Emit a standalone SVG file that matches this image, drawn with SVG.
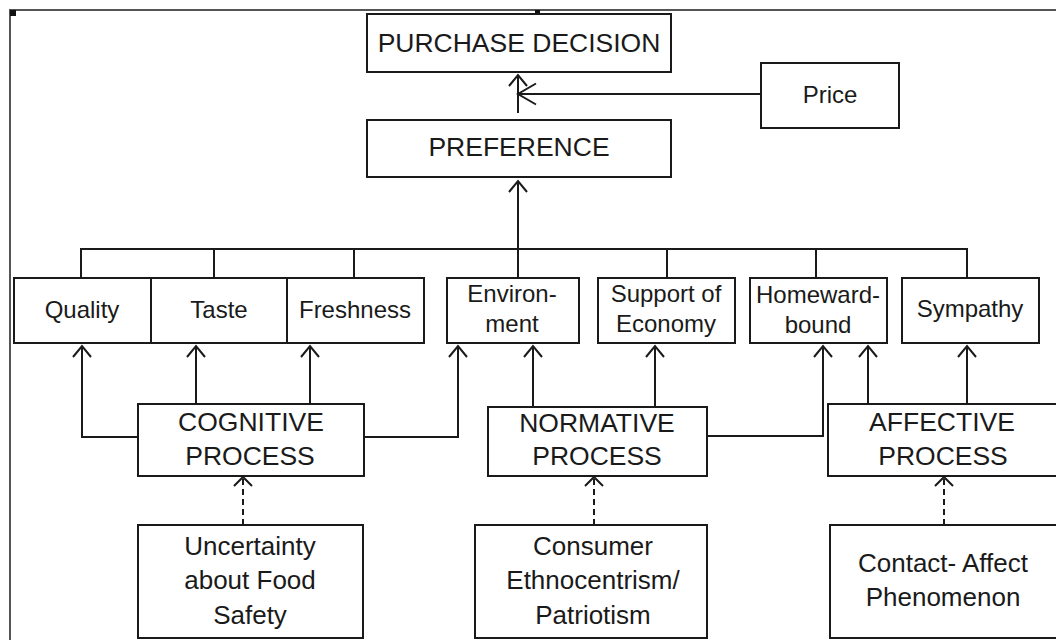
<svg xmlns="http://www.w3.org/2000/svg" width="1056" height="640" viewBox="0 0 1056 640">
<style>
.box{fill:#fff;stroke:#1a1a1a;stroke-width:2}
.t{font-family:"Liberation Sans",Arial,sans-serif;fill:#1a1a1a;text-anchor:middle}
.big{font-size:26.5px}
.mid{font-size:24px}
.low{font-size:26px}
.c{fill:none;stroke:#1a1a1a;stroke-width:2}
.d{stroke-dasharray:6 4}
.frame{fill:none;stroke:#555;stroke-width:2}
</style>
<defs>
<marker id="ah" markerUnits="userSpaceOnUse" markerWidth="30" markerHeight="30" viewBox="-15 -15 30 30" refX="0" refY="0" orient="auto" overflow="visible">
<path d="M-11,-9 L0,0 L-11,9" fill="none" stroke="#1a1a1a" stroke-width="2"/>
</marker>
<marker id="ahb" markerUnits="userSpaceOnUse" markerWidth="40" markerHeight="40" viewBox="-20 -20 40 40" refX="0" refY="0" orient="auto" overflow="visible">
<path d="M-18,-10.5 L0,0 L-18,10.5" fill="none" stroke="#1a1a1a" stroke-width="2"/>
</marker>
<marker id="ahs" markerUnits="userSpaceOnUse" markerWidth="30" markerHeight="30" viewBox="-15 -15 30 30" refX="0" refY="0" orient="auto" overflow="visible">
<path d="M-9,-9 L0,0 L-9,9" fill="none" stroke="#1a1a1a" stroke-width="2"/>
</marker>
</defs>
<rect width="1056" height="640" fill="#fff"/>
<path class="frame" d="M10,640 V10 H1056"/>
<rect x="10" y="10" width="6" height="6" fill="#111"/>
<rect x="535" y="10" width="5" height="4" fill="#111"/>

<g id="connectors">
<path class="c" d="M518,113 V75" marker-end="url(#ah)"/>
<path class="c" d="M761,94 H518" marker-end="url(#ahb)"/>
<path class="c" d="M518,278 V181" marker-end="url(#ah)"/>
<path class="c" d="M81,278 V249 H967 V278"/>
<path class="c" d="M214,249 V278"/>
<path class="c" d="M354,249 V278"/>
<path class="c" d="M667,249 V278"/>
<path class="c" d="M816,249 V278"/>
<path class="c" d="M138,437 H82 V346" marker-end="url(#ah)"/>
<path class="c" d="M196,404 V346" marker-end="url(#ah)"/>
<path class="c" d="M310,404 V346" marker-end="url(#ah)"/>
<path class="c" d="M364,437 H458 V346" marker-end="url(#ah)"/>
<path class="c" d="M533,407 V346" marker-end="url(#ah)"/>
<path class="c" d="M655,407 V346" marker-end="url(#ah)"/>
<path class="c" d="M707,436 H823 V346" marker-end="url(#ah)"/>
<path class="c" d="M868,404 V346" marker-end="url(#ah)"/>
<path class="c" d="M967,404 V346" marker-end="url(#ah)"/>
<path class="c d" d="M243,525 V477" marker-end="url(#ahs)"/>
<path class="c d" d="M594,525 V477" marker-end="url(#ahs)"/>
<path class="c d" d="M944,525 V477" marker-end="url(#ahs)"/>
</g>

<g id="purchase-decision">
<rect class="box" x="367" y="14" width="304" height="58"/>
<text class="t big" x="519" y="52">PURCHASE DECISION</text>
</g>
<g id="price">
<rect class="box" x="761" y="63" width="138" height="65"/>
<text class="t mid" x="830" y="103">Price</text>
</g>
<g id="preference">
<rect class="box" x="367" y="120" width="304" height="57"/>
<text class="t big" x="519" y="156">PREFERENCE</text>
</g>

<g id="quality">
<rect class="box" x="14" y="278" width="137" height="65"/>
<text class="t mid" x="82" y="318">Quality</text>
</g>
<g id="taste">
<rect class="box" x="151" y="278" width="136" height="65"/>
<text class="t mid" x="219" y="318">Taste</text>
</g>
<g id="freshness">
<rect class="box" x="287" y="278" width="137" height="65"/>
<text class="t mid" x="355" y="318">Freshness</text>
</g>
<g id="environment">
<rect class="box" x="447" y="278" width="132" height="65"/>
<text class="t mid" x="512" y="302">Environ-</text>
<text class="t mid" x="512" y="332">ment</text>
</g>
<g id="support-of-economy">
<rect class="box" x="598" y="278" width="137" height="65"/>
<text class="t mid" x="666" y="302">Support of</text>
<text class="t mid" x="666" y="332">Economy</text>
</g>
<g id="homeward-bound">
<rect class="box" x="750" y="278" width="137" height="65"/>
<text class="t mid" x="818" y="303">Homeward-</text>
<text class="t mid" x="818" y="333">bound</text>
</g>
<g id="sympathy">
<rect class="box" x="902" y="278" width="137" height="65"/>
<text class="t mid" x="970" y="317">Sympathy</text>
</g>

<g id="cognitive-process">
<rect class="box" x="138" y="404" width="226" height="72"/>
<text class="t big" x="251" y="431">COGNITIVE</text>
<text class="t big" x="250" y="465">PROCESS</text>
</g>
<g id="normative-process">
<rect class="box" x="488" y="407" width="219" height="69"/>
<text class="t big" x="597" y="432">NORMATIVE</text>
<text class="t big" x="597" y="465">PROCESS</text>
</g>
<g id="affective-process">
<rect class="box" x="828" y="404" width="230" height="72"/>
<text class="t big" x="942" y="431">AFFECTIVE</text>
<text class="t big" x="943" y="465">PROCESS</text>
</g>

<g id="uncertainty">
<rect class="box" x="138" y="525" width="225" height="113"/>
<text class="t low" x="250" y="555">Uncertainty</text>
<text class="t low" x="250" y="589">about Food</text>
<text class="t low" x="250" y="624">Safety</text>
</g>
<g id="consumer-ethnocentrism">
<rect class="box" x="475" y="525" width="232" height="113"/>
<text class="t low" x="593" y="555">Consumer</text>
<text class="t low" x="593" y="589">Ethnocentrism/</text>
<text class="t low" x="593" y="624">Patriotism</text>
</g>
<g id="contact-affect">
<rect class="box" x="830" y="525" width="230" height="113"/>
<text class="t low" x="943" y="572">Contact- Affect</text>
<text class="t low" x="943" y="606">Phenomenon</text>
</g>
</svg>
